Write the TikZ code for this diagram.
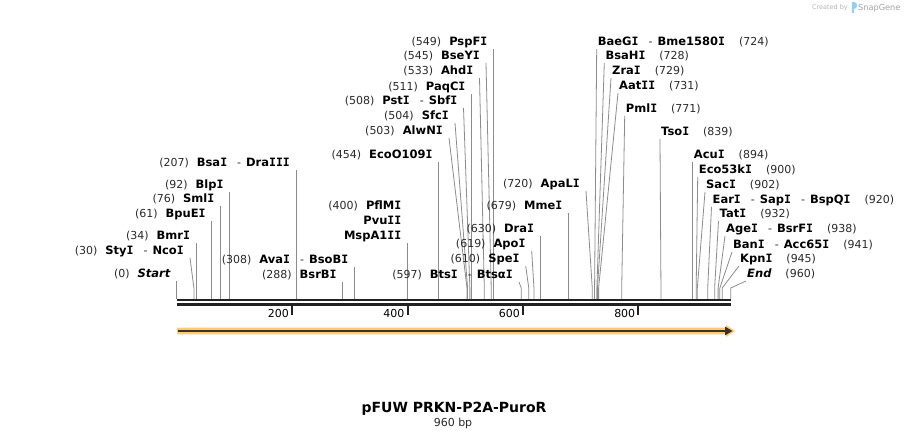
\documentclass[tikz,border=0pt]{standalone}
\usepackage{fontspec}
\setmainfont{DejaVu Sans}[BoldFont={DejaVu Sans Bold},ItalicFont={DejaVu Sans Oblique},BoldItalicFont={DejaVu Sans Bold Oblique}]
\newfontfamily\serI{DejaVu Sans Mono}[BoldFont={DejaVu Sans Mono Bold}]
\usetikzlibrary{calc}
\definecolor{cutgray}{HTML}{8C8C8C}
\definecolor{barc}{HTML}{222222}
\definecolor{numc}{HTML}{2A2A2A}
\definecolor{orng}{HTML}{FCCB72}
\definecolor{arrdark}{HTML}{3A3328}
\definecolor{credit}{HTML}{B4B4B4}
\definecolor{sgblue}{HTML}{8FD0F2}
\newcommand\Ib{{\serI I}}
\newcommand\bpn[1]{{\fontsize{11}{13}\selectfont\color{numc}(#1)}}
\newcommand\enzb[1]{{\bfseries\fontsize{11.5}{13}\selectfont #1}}
\newcommand\dsep{\hspace{10pt}{\color{numc}-}\hspace{5pt}}
\newcommand\gapl{\hspace{8pt}}
\newcommand\gapr{\hspace{14pt}}
\newcommand\cutsite[4]{%
  \coordinate (b#1) at ({176.6+0.5773*#2},299);
  \coordinate (m#1) at ({176.6+0.5773*#2},288);
  \ifx&#3&\coordinate (a#1) at ({176.6+0.5773*#2},#4);\else\coordinate (a#1) at (#3,#4);\fi
  \draw[cutln] (b#1) -- (m#1) -- (a#1);}
\newcommand\labL[2]{\node[lbl,anchor=base east] (l#1) at ($(a#1)+(-6,-3)$) {#2};}
\newcommand\labR[2]{\node[lbl,anchor=base west] (l#1) at ($(a#1)+(1,-3)$) {#2};}
\newcommand\tickmark[1]{%
  \coordinate (ta#1) at ({176.6+0.5773*#1},305);
  \coordinate (tb#1) at ({176.6+0.5773*#1},315);
  \draw[tickln] (ta#1) -- (tb#1);
  \node[lbl,anchor=base east] (tl#1) at ($(tb#1)+(-3,3)$) {#1};}
\begin{document}
\begin{tikzpicture}[x=1pt,y=-1pt,
  cutln/.style={draw=cutgray,line width=0.8pt},
  lbl/.style={inner sep=0pt,font=\fontsize{11}{13}\selectfont,text=black},
  tickln/.style={draw=barc,line width=2pt},
  barln/.style={draw=barc,line width=2.3pt}]
\fill[white] (0,0) rectangle (908,438);
\path[use as bounding box] (0,0) rectangle (908,438);

% credit
\node[inner sep=0pt,anchor=base east,text=credit,font=\fontsize{6.5}{8}\selectfont] (cred) at (848,10) {Created by};
\fill[sgblue] (851.5,2) rectangle (853.5,13);
\fill[sgblue] (853.5,2) .. controls (858,2) and (858,9) .. (853.5,9) -- cycle;
\node[inner sep=0pt,anchor=base west,text=credit!90!black,font=\fontsize{8.2}{10}\selectfont] (sg) at (858,10.5) {SnapGene};

% bar
\coordinate (bar1s) at (176.6,300.3); \coordinate (bar1e) at (730.8,300.3);
\coordinate (bar2s) at (176.6,304.5); \coordinate (bar2e) at (730.8,304.5);
\draw[barln] (bar1s) -- (bar1e);
\draw[barln] (bar2s) -- (bar2e);
\tickmark{200}\tickmark{400}\tickmark{600}\tickmark{800}

% feature arrow
\fill[orng] (177,327.6) -- (726,327.6) -- (726,325) -- (735,331) -- (726,337) -- (726,334.4) -- (177,334.4) -- cycle;
\coordinate (fs) at (178,331); \coordinate (fe) at (726,331);
\draw[arrdark,line width=1.9pt] (fs) -- (fe);
\fill[arrdark] (725,326.6) -- (732.5,331) -- (725,335.4) -- cycle;

% left labels
\cutsite{s0}{0}{}{281}\labL{s0}{\bpn{0}\gapl{\bfseries\itshape\fontsize{11.5}{13}\selectfont Start}}
\cutsite{s30}{30}{190}{258}\labL{s30}{\bpn{30}\gapl\enzb{Sty\Ib}\dsep\enzb{Nco\Ib}}
\cutsite{s34}{34}{}{243}\labL{s34}{\bpn{34}\gapl\enzb{Bmr\Ib}}
\cutsite{s61}{61}{}{221}\labL{s61}{\bpn{61}\gapl\enzb{BpuE\Ib}}
\cutsite{s76}{76}{}{206}\labL{s76}{\bpn{76}\gapl\enzb{Sml\Ib}}
\cutsite{s92}{92}{}{192}\labL{s92}{\bpn{92}\gapl\enzb{Blp\Ib}}
\cutsite{s207}{207}{}{170}\labL{s207}{\bpn{207}\gapl\enzb{Bsa\Ib}\dsep\enzb{Dra\Ib\Ib\Ib}}
\cutsite{s288}{288}{}{282}\labL{s288}{\bpn{288}\gapl\enzb{BsrB\Ib}}
\cutsite{s308}{308}{}{267}\labL{s308}{\bpn{308}\gapl\enzb{Ava\Ib}\dsep\enzb{BsoB\Ib}}
\cutsite{s400}{400}{}{243}
\node[lbl,anchor=base east] (l400a) at ($(as400)+(-6,-33)$) {\bpn{400}\gapl\enzb{PflM\Ib}};
\node[lbl,anchor=base east] (l400b) at ($(as400)+(-6,-18)$) {\enzb{Pvu\Ib\Ib}};
\node[lbl,anchor=base east] (l400c) at ($(as400)+(-6,-3)$) {\enzb{MspA1\Ib\Ib}};
\cutsite{s454}{454}{}{162}\labL{s454}{\bpn{454}\gapl\enzb{EcoO109\Ib}}
\cutsite{s503}{503}{449}{138}\labL{s503}{\bpn{503}\gapl\enzb{AlwN\Ib}}
\cutsite{s504}{504}{455}{123}\labL{s504}{\bpn{504}\gapl\enzb{Sfc\Ib}}
\cutsite{s508}{508}{463.5}{108}\labL{s508}{\bpn{508}\gapl\enzb{Pst\Ib}\dsep\enzb{Sbf\Ib}}
\cutsite{s511}{511}{}{94}\labL{s511}{\bpn{511}\gapl\enzb{PaqC\Ib}}
\cutsite{s533}{533}{479.5}{78}\labL{s533}{\bpn{533}\gapl\enzb{Ahd\Ib}}
\cutsite{s545}{545}{486}{63}\labL{s545}{\bpn{545}\gapl\enzb{BseY\Ib}}
\cutsite{s549}{549}{}{49}\labL{s549}{\bpn{549}\gapl\enzb{PspF\Ib}}
\cutsite{s597}{597}{519}{282}\labL{s597}{\bpn{597}\gapl\enzb{Bts\Ib}\dsep\enzb{Btsα\Ib}}
\cutsite{s610}{610}{525.7}{266}\labL{s610}{\bpn{610}\gapl\enzb{Spe\Ib}}
\cutsite{s619}{619}{531.7}{251}\labL{s619}{\bpn{619}\gapl\enzb{Apo\Ib}}
\cutsite{s630}{630}{}{236}\labL{s630}{\bpn{630}\gapl\enzb{Dra\Ib}}
\cutsite{s679}{679}{}{213}\labL{s679}{\bpn{679}\gapl\enzb{Mme\Ib}}
\cutsite{s720}{720}{586}{191}\labL{s720}{\bpn{720}\gapl\enzb{ApaL\Ib}}

% right labels
\cutsite{s724}{724}{596.7}{49}\labR{s724}{\enzb{BaeG\Ib}\dsep\enzb{Bme1580\Ib}\gapr\bpn{724}}
\cutsite{s728}{728}{604.3}{63}\labR{s728}{\enzb{BsaH\Ib}\gapr\bpn{728}}
\cutsite{s729}{729}{611}{78}\labR{s729}{\enzb{Zra\Ib}\gapr\bpn{729}}
\cutsite{s731}{731}{618}{93}\labR{s731}{\enzb{Aat\Ib\Ib}\gapr\bpn{731}}
\cutsite{s771}{771}{624.7}{116}\labR{s771}{\enzb{Pml\Ib}\gapr\bpn{771}}
\cutsite{s839}{839}{660}{139}\labR{s839}{\enzb{Tso\Ib}\gapr\bpn{839}}
\cutsite{s894}{894}{}{162}\labR{s894}{\enzb{Acu\Ib}\gapr\bpn{894}}
\cutsite{s900}{900}{697.7}{177}\labR{s900}{\enzb{Eco53k\Ib}\gapr\bpn{900}}
\cutsite{s902}{902}{705}{192}\labR{s902}{\enzb{Sac\Ib}\gapr\bpn{902}}
\cutsite{s920}{920}{711.5}{207}\labR{s920}{\enzb{Ear\Ib}\dsep\enzb{Sap\Ib}\dsep\enzb{BspQ\Ib}\gapr\bpn{920}}
\cutsite{s932}{932}{718.5}{221}\labR{s932}{\enzb{Tat\Ib}\gapr\bpn{932}}
\cutsite{s938}{938}{725}{236}\labR{s938}{\enzb{Age\Ib}\dsep\enzb{BsrF\Ib}\gapr\bpn{938}}
\cutsite{s941}{941}{732}{252}\labR{s941}{\enzb{Ban\Ib}\dsep\enzb{Acc65\Ib}\gapr\bpn{941}}
\cutsite{s945}{945}{739}{266}\labR{s945}{\enzb{Kpn\Ib}\gapr\bpn{945}}
\cutsite{s960}{960}{746}{281}\labR{s960}{{\bfseries\itshape\fontsize{11.5}{13}\selectfont End}\gapr\bpn{960}}

% title
\node[inner sep=0pt,anchor=base,font=\bfseries\fontsize{14}{16}\selectfont] (title) at (454,412) {pFUW PRKN-P2A-PuroR};
\node[inner sep=0pt,anchor=base,font=\fontsize{11}{13}\selectfont,text=numc] (len) at (453,426) {960 bp};
\end{tikzpicture}
\end{document}
